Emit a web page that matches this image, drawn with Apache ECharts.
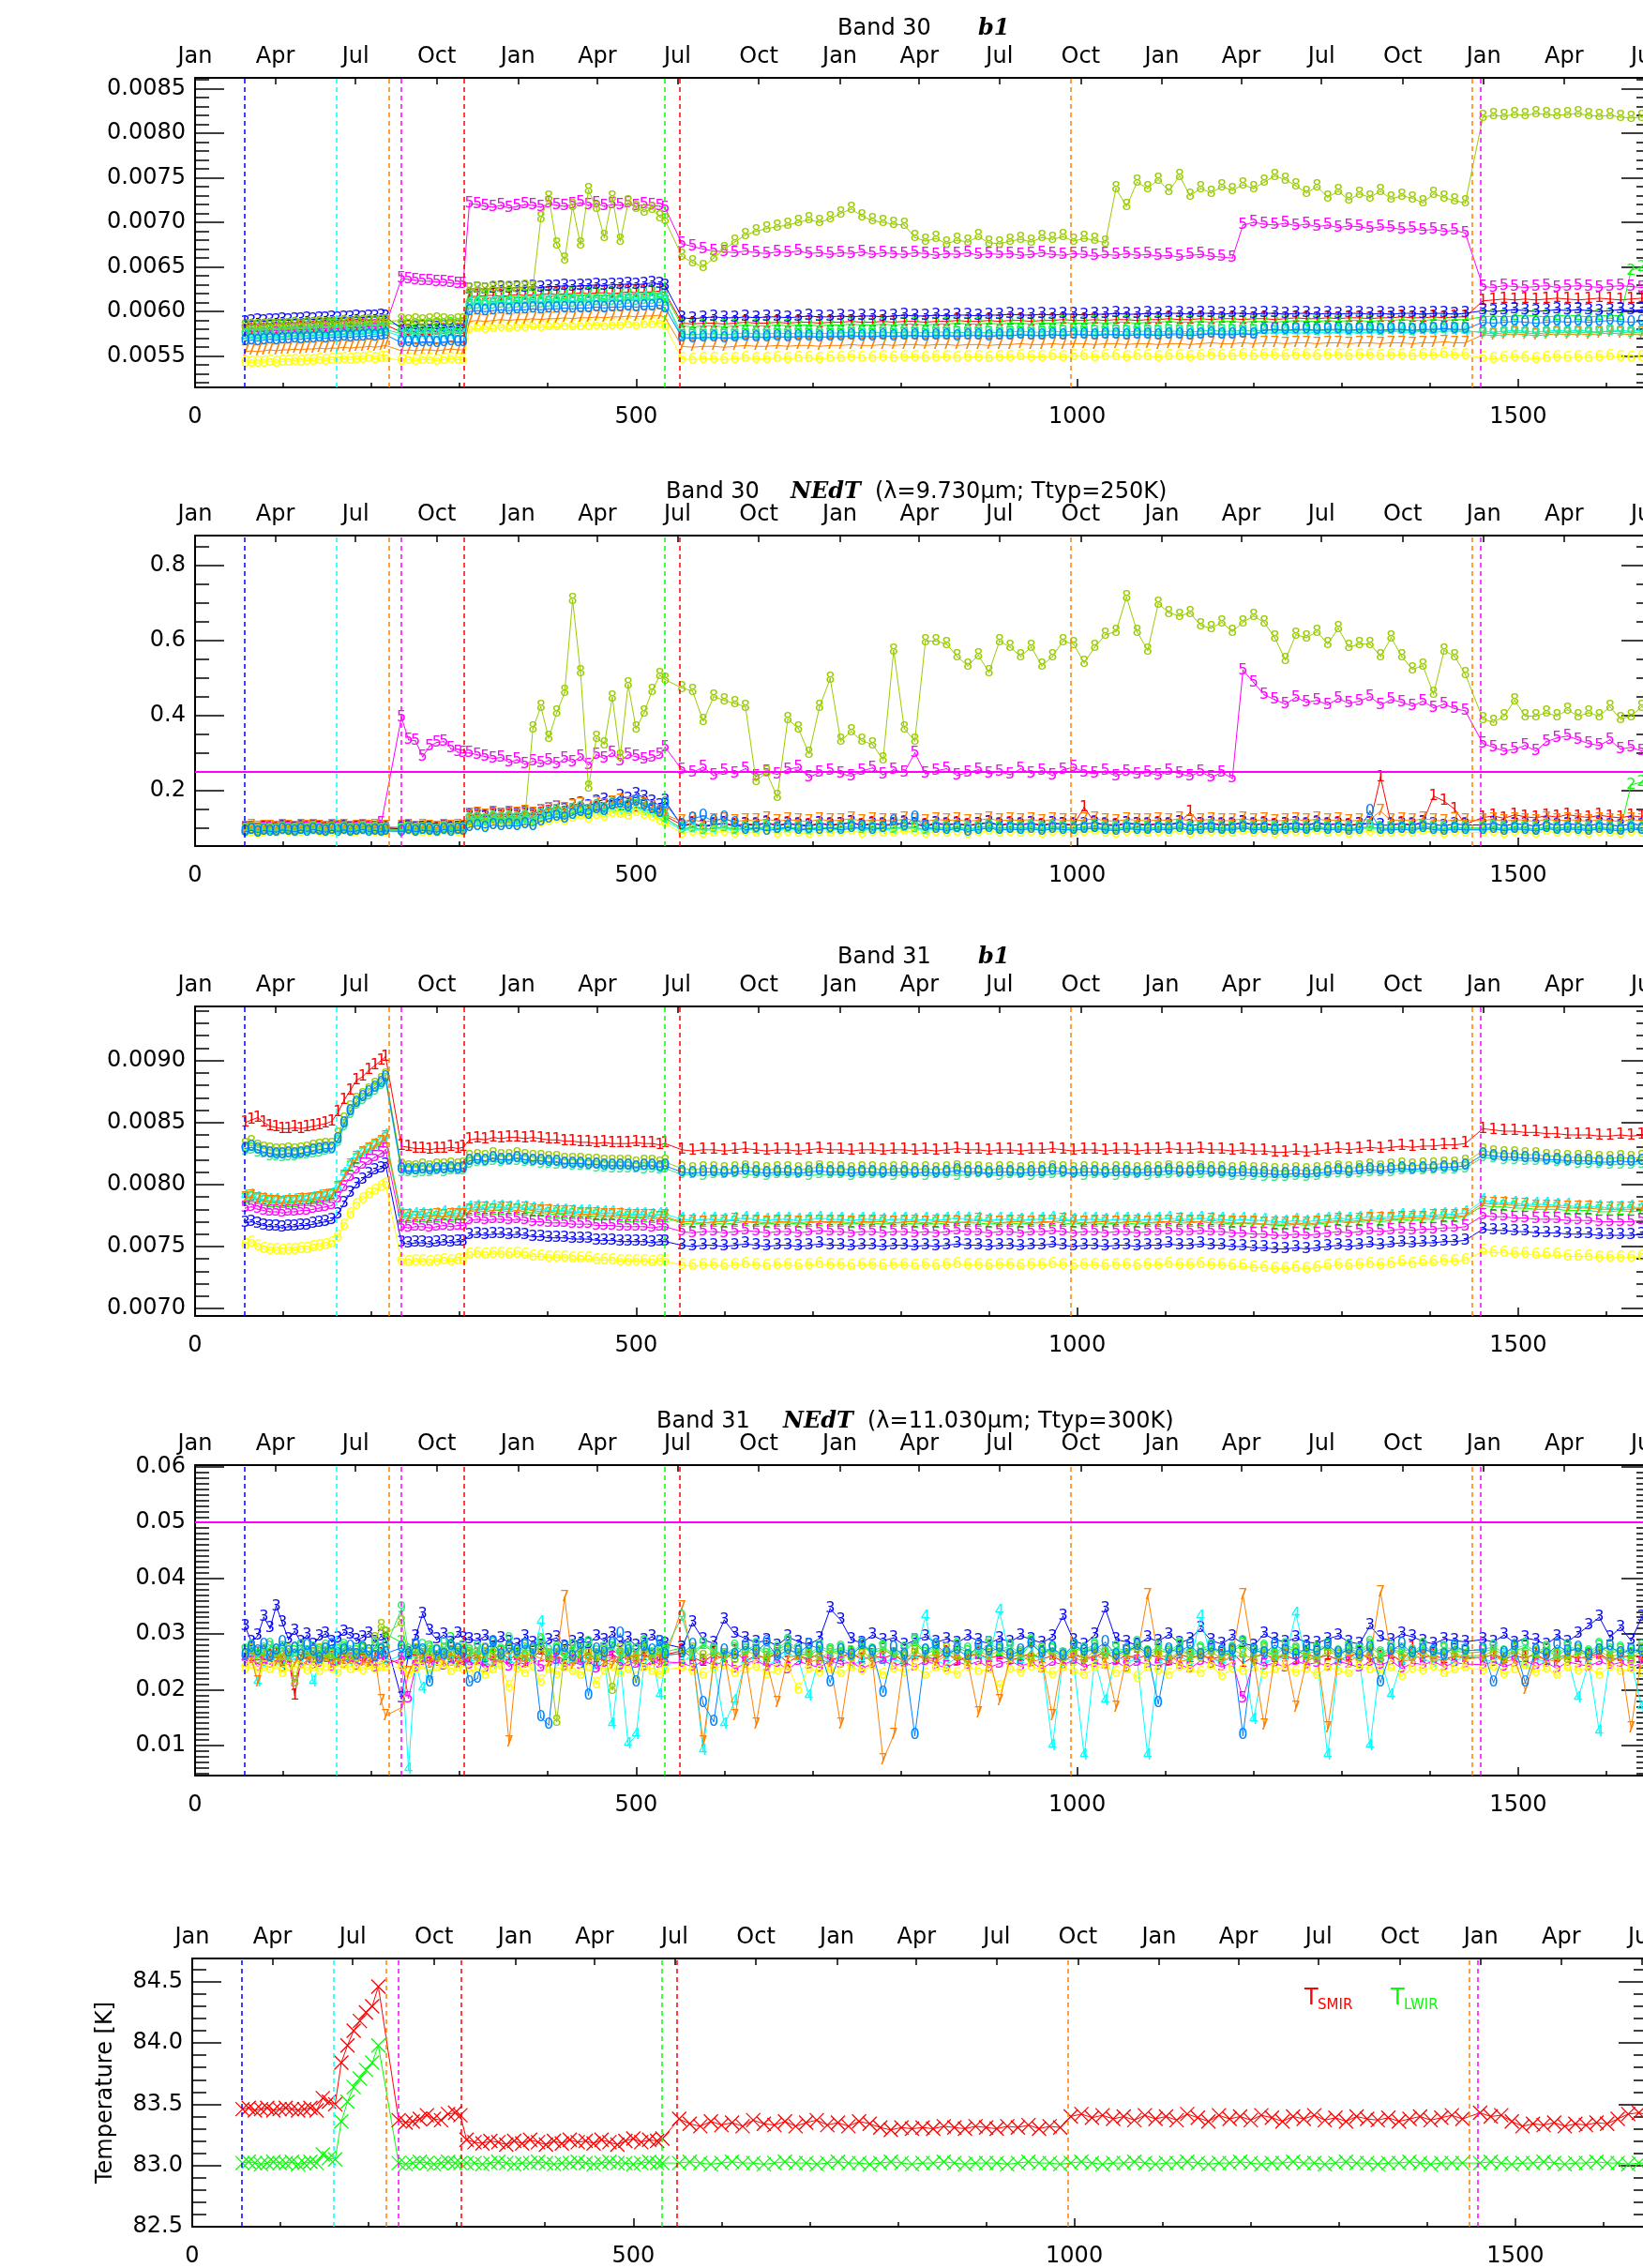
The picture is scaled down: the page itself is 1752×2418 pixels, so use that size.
<!DOCTYPE html>
<html>
<head>
<meta charset="utf-8">
<script src="https://cdn.jsdelivr.net/npm/echarts@6/dist/echarts.min.js"></script>
<style>
html,body{margin:0;padding:0;width:1752px;height:2418px;overflow:hidden;background:#fff}
#wrap{width:1752px;height:2418px;overflow:hidden;position:relative}
#chart{width:1800px;height:2418px}
</style>
</head>
<body>
<div id="wrap"><div id="chart"></div></div>
<script>
// Sample days (days since 1 Jan 2000) shared by every trend below.
const DAYS = [
  57,64,71,78,85,92,99,106,113,120,127,134,141,148,155,162,169,176,183,190,197,204,211,216,
  234,242,250,258,266,274,282,290,298,304,
  311,320,329,338,347,356,365,374,383,392,401,410,419,428,437,446,455,464,473,482,491,500,509,518,527,533,
  552,564,576,588,600,612,624,636,648,660,672,684,696,708,720,
  732,744,756,768,780,792,804,816,828,840,852,864,876,888,900,
  912,924,936,948,960,972,984,996,1008,1020,1032,1044,1056,1068,1080,
  1092,1104,1116,1128,1140,1152,1164,1176,1188,1200,1212,1224,1236,1248,1260,
  1272,1284,1296,1308,1320,1332,1344,1356,1368,1380,1392,1404,1416,1428,1440,
  1460,1472,1484,1496,1508,1520,1532,1544,1556,1568,1580,1592,1604,1616,1628,1640,1652
];

// Top-axis calendar ticks
const MONTH_DAYS = [0,91,182,274,366,456,547,639,731,821,912,1004,1096,1186,1277,1369,1461,1552,1643];
const MONTH_NAMES = ['Jan','Apr','Jul','Oct','Jan','Apr','Jul','Oct','Jan','Apr','Jul','Oct','Jan','Apr','Jul','Oct','Jan','Apr','Jul'];
const DAY_TICKS = [0,500,1000,1500];

// Instrument events (vertical markers)
const EVENT_DAYS = [56.5,160,219.5,233.6,305,532.7,549,992.8,1447.3,1457];

// Y tick labels
const Y_TICKS_B30_B1 = [0.0055,0.006,0.0065,0.007,0.0075,0.008,0.0085];
const Y_TICKS_B30_NEDT = [0.2,0.4,0.6,0.8];
const Y_TICKS_B31_B1 = [0.007,0.0075,0.008,0.0085,0.009];
const Y_TICKS_B31_NEDT = [0.01,0.02,0.03,0.04,0.05,0.06];
const Y_TICKS_TEMP = [82.5,83,83.5,84,84.5];

// NEdT specifications
const SPEC_B30 = 0.25;
const SPEC_B31 = 0.05;

const DETECTORS = ['1','2','3','4','5','6','7','8','9','0'];

// Band 30 b1, in units of 1e-5 (detectors 1..10)
const B30_B1 = [
 [578,579,578,579,579,580,579,580,580,581,580,581,581,582,581,582,582,583,583,583,584,584,584,585,
  577,578,577,578,578,578,579,578,579,579,
  617,617,618,618,617,618,619,618,619,619,620,619,620,620,621,620,621,621,620,621,622,621,622,622,623,621,
  587,586,587,587,586,587,588,587,587,588,587,588,588,587,588,
  588,589,588,588,589,588,589,589,588,589,589,590,589,589,590,
  589,590,590,589,590,590,591,590,590,591,590,591,591,590,591,
  591,592,591,591,592,591,592,592,591,592,592,591,592,593,592,
  592,593,592,593,593,592,593,593,594,593,593,594,593,594,594,
  612,613,614,613,614,613,614,615,614,613,614,615,614,613,614,615,614],
 [581,582,581,582,582,583,582,583,583,584,583,584,584,585,584,585,585,586,586,586,587,587,587,588,
  584,584,585,584,585,585,585,586,585,586,
  615,616,616,615,616,617,616,617,617,618,617,618,618,619,618,619,619,618,619,620,619,620,620,621,620,618,
  584,583,584,584,583,584,585,584,584,585,584,585,585,584,585,
  585,586,585,585,586,585,586,586,585,586,586,587,586,586,587,
  586,587,587,586,587,587,588,587,587,588,587,588,588,587,588,
  588,589,588,588,589,588,589,589,588,589,589,588,589,590,589,
  589,590,589,590,590,589,590,590,591,590,590,591,590,591,591,
  594,595,594,595,596,595,594,595,596,595,594,595,596,595,646,650,649],
 [588,589,590,589,590,590,591,590,591,591,592,591,592,592,593,592,593,593,594,593,594,594,595,594,
  581,582,581,582,582,581,582,583,582,582,
  625,626,625,626,627,626,627,627,628,627,628,628,629,628,629,629,630,629,630,630,631,630,631,632,631,629,
  593,592,593,594,593,593,594,593,594,594,593,594,595,594,594,
  595,594,595,595,594,595,596,595,595,596,595,596,596,595,596,
  596,597,596,596,597,596,597,597,596,597,597,598,597,597,598,
  597,598,598,597,598,598,597,598,598,597,598,598,597,598,598,
  597,598,597,598,598,597,598,597,598,598,597,598,598,597,598,
  601,600,601,602,601,600,601,602,601,602,601,600,601,602,601,602,601],
 [571,572,571,572,572,573,572,573,573,574,573,574,574,575,574,575,575,576,576,576,577,577,577,578,
  572,573,572,573,573,572,573,574,573,573,
  609,610,609,610,611,610,611,611,612,611,612,612,613,612,613,613,612,613,614,613,614,614,615,614,615,613,
  570,571,570,571,571,570,571,572,571,571,572,571,572,572,571,
  572,572,573,572,572,573,572,573,573,572,573,573,574,573,573,
  574,573,574,574,573,574,574,575,574,574,575,574,575,575,574,
  575,575,576,575,575,576,575,576,576,575,576,576,577,576,576,
  577,576,577,577,576,577,577,578,577,577,578,577,578,578,577,
  578,577,578,579,578,577,578,579,578,579,578,577,578,579,578,579,578],
 [577,578,577,578,578,579,578,579,579,580,579,580,580,581,580,581,581,582,582,582,583,583,583,584,
  637,636,635,634,634,633,633,632,631,631,
  721,720,718,717,719,716,718,720,719,717,721,719,718,720,722,719,721,718,720,719,721,718,720,719,718,716,
  676,673,670,668,667,666,668,666,665,667,666,668,665,666,664,
  666,665,667,664,666,665,664,666,665,663,665,664,666,663,665,
  664,665,663,664,666,664,663,665,664,662,664,663,665,663,664,
  662,663,661,663,664,662,661,660,697,700,698,697,699,696,698,
  695,697,694,696,695,693,695,694,692,693,691,692,690,691,688,
  628,627,629,628,627,628,629,627,628,629,628,627,628,629,628,627,628],
 [542,543,542,543,544,543,544,544,545,544,545,545,546,545,546,546,547,546,547,547,548,547,548,548,
  545,546,545,546,546,545,546,547,546,546,
  580,581,580,581,582,581,582,582,583,582,583,583,584,583,584,584,585,584,585,585,586,585,586,586,587,584,
  547,546,547,547,546,547,548,547,547,548,547,548,548,547,548,
  548,549,548,548,549,548,549,549,548,549,549,548,549,549,548,
  549,549,550,549,549,550,549,550,550,549,550,550,549,550,550,
  549,550,550,549,550,551,550,550,551,550,551,551,550,551,551,
  550,551,551,550,551,551,550,551,551,550,551,551,552,551,551,
  548,547,548,549,548,547,548,549,548,549,548,549,550,549,548,549,548],
 [555,556,555,556,557,556,557,557,558,557,558,558,559,558,559,559,560,559,560,560,561,560,561,562,
  556,557,556,557,557,556,557,558,557,557,
  589,590,589,590,591,590,591,591,592,591,592,592,593,592,593,593,594,593,594,594,595,594,595,595,596,593,
  561,560,561,561,560,561,562,561,561,562,561,562,562,561,562,
  562,563,562,562,563,562,563,563,562,563,563,562,563,563,562,
  563,563,564,563,563,564,563,564,564,563,564,564,563,564,564,
  563,564,564,563,564,565,564,564,565,564,565,565,564,565,565,
  564,565,565,564,565,565,564,565,565,564,565,565,566,565,565,
  574,573,574,575,574,573,574,575,574,575,574,575,576,575,574,575,574],
 [583,584,583,584,585,584,585,585,586,585,586,586,587,586,587,587,588,587,588,588,589,588,589,589,
  590,589,590,589,590,591,590,589,590,590,
  625,626,625,627,626,627,626,628,627,704,728,675,658,718,675,736,716,683,728,679,722,716,712,715,706,702,
  662,655,650,660,670,678,686,690,693,695,697,700,703,700,704,
  710,715,707,702,700,698,697,683,679,682,676,680,678,684,677,
  676,679,681,678,683,681,684,679,682,680,677,738,718,745,738,
  748,735,752,730,738,733,740,736,742,738,745,752,748,741,733,
  740,728,735,725,732,728,735,726,730,727,722,732,728,724,722,
  818,820,819,821,820,822,821,820,821,822,820,819,820,818,817,818,816],
 [573,574,573,574,575,574,575,575,576,575,576,576,577,576,577,577,578,577,578,578,579,578,579,580,
  575,576,575,576,576,575,576,577,576,576,
  607,608,607,608,609,608,609,609,610,609,610,610,611,610,611,611,612,611,612,612,613,612,613,613,614,611,
  575,574,575,575,574,575,576,575,575,576,575,576,576,575,576,
  576,577,576,576,577,576,577,577,576,577,577,576,577,577,576,
  577,577,578,577,577,578,577,578,578,577,578,578,577,578,578,
  577,578,578,577,578,579,578,578,579,578,579,579,578,579,579,
  578,579,579,578,579,579,578,579,579,578,579,579,580,579,579,
  576,575,576,577,576,575,576,577,576,577,576,577,578,577,576,577,576],
 [567,568,567,568,569,568,569,569,570,569,570,570,571,570,571,571,572,571,572,572,573,572,573,574,
  565,566,565,566,566,565,566,567,566,566,
  600,601,600,601,602,601,602,602,603,602,603,603,604,603,604,604,605,604,605,605,606,605,606,606,607,604,
  571,570,571,571,570,571,572,571,571,572,571,572,572,571,572,
  572,573,572,572,573,572,573,573,572,573,573,572,573,573,572,
  573,573,574,573,573,574,573,574,574,573,574,574,573,574,574,
  573,574,574,573,574,575,574,574,575,574,579,580,579,580,580,
  579,580,580,579,580,580,579,580,580,579,580,580,581,580,580,
  588,587,588,589,588,587,588,589,588,589,588,589,590,589,588,589,588]
];

// Band 30 NEdT, in units of 1e-3 K (detectors 1..10)
const B30_NEDT = [
 [98,100,96,101,99,97,102,100,98,101,99,103,100,97,101,99,102,98,100,103,99,101,98,100,
  99,102,98,101,100,97,103,99,101,100,
  128,131,127,133,129,132,130,135,131,138,142,145,140,148,151,146,153,149,155,158,152,156,150,147,139,132,
  108,112,106,110,113,107,111,109,114,108,112,110,107,113,109,
  111,115,108,112,110,109,114,111,107,113,110,112,108,111,115,
  109,112,110,113,108,113,111,109,155,114,110,108,113,111,109,
  112,110,115,142,111,113,109,110,115,110,112,108,111,113,109,
  114,110,112,108,111,113,235,110,112,109,115,185,172,150,110,
  128,132,126,135,130,127,133,129,136,131,128,134,130,127,133,129,132],
 [95,98,93,97,96,94,99,97,95,98,96,100,97,94,98,96,99,95,97,100,96,98,95,97,
  96,99,95,98,97,94,100,96,98,97,
  118,121,117,123,119,122,120,125,121,128,134,138,133,142,146,140,150,145,155,152,148,158,150,144,136,126,
  98,102,96,100,103,97,101,99,104,98,102,100,97,103,99,
  101,105,98,102,100,99,104,101,97,103,100,102,98,101,105,
  99,102,100,103,98,103,101,99,102,104,100,98,103,101,99,
  102,100,105,98,101,103,99,100,105,100,102,98,101,103,99,
  104,100,102,98,101,103,99,100,102,99,105,101,98,102,100,
  100,103,98,102,101,97,104,99,102,101,98,103,100,97,215,222,218],
 [97,101,95,100,98,96,103,99,97,102,98,104,99,96,102,98,103,97,99,104,98,101,97,100,
  98,103,97,101,99,96,104,98,101,99,
  132,136,130,138,134,137,135,140,136,145,150,154,148,160,165,158,170,176,168,185,178,190,182,170,160,172,
  105,110,103,108,112,104,109,107,113,106,111,108,104,112,107,
  110,114,106,111,108,107,113,110,104,112,108,111,106,110,114,
  107,111,108,112,106,112,110,107,111,113,108,106,112,110,107,
  111,108,114,106,110,112,107,108,114,108,111,106,110,112,107,
  113,108,111,106,110,112,107,108,111,107,114,109,106,111,108,
  108,112,106,111,109,105,113,107,111,109,106,112,108,105,112,107,110],
 [92,96,90,95,93,91,97,94,92,96,93,98,94,91,96,93,97,92,94,98,93,95,92,95,
  93,97,92,96,94,91,98,93,96,94,
  112,115,111,117,113,116,114,119,115,122,128,132,127,136,140,134,144,139,149,146,142,152,144,138,130,120,
  94,98,92,96,99,93,97,95,100,94,98,96,93,99,95,
  97,101,94,98,96,95,100,97,93,99,96,98,94,97,101,
  95,98,96,99,94,99,97,95,98,100,96,94,99,97,95,
  98,96,101,94,97,99,95,96,101,96,98,94,97,99,95,
  100,96,98,94,97,99,95,96,98,95,101,97,94,98,96,
  96,99,94,98,97,93,100,95,98,97,94,99,96,93,99,95,98],
 [96,99,94,98,97,95,100,98,96,99,97,101,98,95,99,97,100,96,98,101,97,99,112,null,
  395,335,332,290,318,328,330,312,302,300,
  300,295,290,285,288,275,282,270,278,272,280,270,285,275,290,268,295,285,300,278,295,290,282,288,295,315,
  255,248,262,240,252,245,258,238,250,243,256,262,235,248,252,
  245,238,252,260,242,255,248,300,245,252,258,240,248,255,245,
  250,242,258,246,253,240,255,262,248,245,252,238,250,243,248,
  240,252,245,238,250,235,248,232,520,488,455,442,430,448,435,
  440,428,445,432,438,450,428,442,435,425,438,420,430,418,412,
  325,315,305,310,320,305,330,340,345,335,325,320,335,310,315,305,318],
 [88,91,86,90,89,87,92,90,88,91,89,93,90,87,91,89,92,88,90,93,89,91,88,90,
  89,92,88,91,90,87,93,89,91,90,
  105,108,104,110,106,109,107,112,108,115,120,124,119,128,132,126,135,130,140,137,133,143,135,129,121,112,
  86,90,84,88,91,85,89,87,92,86,90,88,85,91,87,
  89,93,86,90,88,87,92,89,85,91,88,90,86,89,93,
  87,90,88,91,86,91,89,87,90,92,88,86,91,89,87,
  90,88,93,86,89,91,87,88,93,88,90,86,89,91,87,
  92,88,90,86,89,91,87,88,90,87,93,89,86,90,88,
  88,91,86,90,89,85,92,87,90,89,86,91,88,85,91,87,90],
 [101,104,99,103,102,100,105,103,101,104,102,106,103,100,104,102,105,101,103,106,102,104,101,103,
  102,105,101,104,103,100,106,102,104,103,
  135,138,133,140,136,139,137,142,138,146,150,155,149,158,162,156,166,160,168,172,164,170,162,155,145,135,
  118,122,116,120,123,117,121,119,124,118,122,120,117,123,119,
  121,125,118,122,120,119,124,121,117,123,120,122,118,121,125,
  119,122,120,123,118,123,121,119,122,124,120,118,123,121,119,
  122,120,125,118,121,123,119,120,125,120,122,118,121,123,119,
  124,120,122,118,121,123,145,120,122,119,125,121,118,122,120,
  120,123,118,122,121,117,124,119,122,121,118,123,120,117,123,119,122],
 [94,97,92,96,95,93,98,96,94,97,95,99,96,93,97,95,98,94,96,99,95,97,94,96,
  95,98,94,97,96,93,99,95,97,96,
  120,124,119,126,122,125,123,128,365,423,340,407,461,707,515,207,340,323,448,290,482,365,407,465,507,495,
  473,465,385,450,440,432,423,225,248,182,390,365,298,423,498,
  332,357,332,323,282,573,365,332,598,598,590,557,532,560,515,
  598,582,557,582,532,557,598,590,540,582,615,623,715,623,573,
  698,673,665,673,640,632,648,623,648,665,648,607,548,615,607,
  623,590,632,582,590,590,557,607,557,523,532,457,573,557,510,
  390,382,398,440,398,398,407,398,415,398,407,398,423,390,398,423,410],
 [93,96,91,95,94,92,97,95,93,96,94,98,95,92,96,94,97,93,95,98,94,96,93,95,
  94,97,93,96,95,92,98,94,96,95,
  122,126,121,128,124,127,125,130,126,134,140,144,138,148,153,146,158,150,162,166,158,170,160,150,140,128,
  97,101,95,99,102,96,100,98,103,97,101,99,96,102,98,
  100,104,97,101,99,98,103,100,96,102,99,101,97,100,104,
  98,101,99,102,97,102,100,98,101,103,99,97,102,100,98,
  101,99,104,97,100,102,98,99,104,99,101,97,100,102,98,
  103,99,101,97,100,102,98,99,101,98,104,100,97,101,99,
  99,102,97,101,100,96,103,98,101,100,97,102,99,96,102,98,101],
 [90,94,88,93,91,89,95,92,90,94,91,96,92,89,94,91,95,90,92,96,91,93,90,92,
  91,95,90,94,92,89,96,91,94,92,
  102,106,100,108,104,107,105,110,106,118,125,130,124,135,142,136,150,145,160,165,155,170,160,150,140,165,
  108,125,132,118,128,112,95,100,93,97,102,94,98,96,101,
  95,99,103,96,100,118,105,128,102,97,94,99,91,96,100,
  94,97,95,98,93,98,96,94,97,99,95,93,98,96,94,
  97,95,100,93,96,98,94,95,100,95,97,93,96,98,94,
  99,95,97,93,96,145,94,95,97,94,100,96,93,97,95,
  95,98,93,97,96,92,99,94,97,96,93,98,95,92,98,94,97]
];

// Band 31 b1, in units of 1e-5 (detectors 1..10)
const B31_B1 = [
 [850,852,854,850,847,846,845,845,846,845,846,847,848,849,851,858,868,876,884,887,892,896,900,903,
  831,830,829,829,828,829,829,830,829,830,
  836,837,836,838,837,838,838,837,838,837,836,836,835,835,834,834,833,834,833,833,833,834,833,833,832,833,
  828,827,828,828,827,828,829,828,827,828,828,827,828,829,828,
  828,827,828,828,827,828,828,827,828,827,828,829,828,828,827,
  828,828,827,828,828,829,828,827,828,828,827,828,828,827,828,
  828,829,828,828,829,828,828,827,828,827,827,826,826,827,826,
  827,828,829,828,829,830,829,830,831,830,831,831,832,832,833,
  845,844,843,843,842,842,841,841,840,840,840,839,839,840,839,840,840],
 [788,789,787,786,785,785,784,785,785,786,786,787,788,789,790,796,805,814,820,824,827,830,833,836,
  773,772,773,773,772,773,774,773,774,774,
  778,779,778,779,779,778,779,778,777,777,776,776,776,775,775,775,774,774,774,773,773,773,773,772,773,773,
  769,768,769,769,768,769,770,769,768,769,769,768,769,770,769,
  769,768,769,769,768,769,769,768,769,768,769,770,769,769,768,
  769,769,768,769,769,770,769,768,769,769,768,769,769,768,769,
  769,770,769,769,770,769,769,768,769,768,768,767,767,768,767,
  768,769,770,769,770,771,770,771,772,771,772,772,773,773,774,
  783,782,782,781,781,780,780,780,779,779,779,778,778,779,778,779,778],
 [769,770,768,767,766,766,765,766,766,767,767,768,769,770,771,776,785,793,800,804,808,811,813,816,
  753,752,753,753,752,753,754,753,754,754,
  759,760,759,760,760,759,760,759,758,758,757,757,757,756,756,756,755,755,755,754,754,754,754,753,754,754,
  751,750,751,751,750,751,752,751,750,751,751,750,751,752,751,
  751,750,751,751,750,751,751,750,751,750,751,752,751,751,750,
  751,751,750,751,751,752,751,750,751,751,750,751,751,750,751,
  751,752,751,751,752,751,751,750,750,749,749,748,748,749,748,
  749,750,751,750,751,752,751,752,753,752,753,753,754,754,755,
  764,763,763,762,762,761,761,761,760,760,760,759,759,759,759,760,759],
 [790,791,789,788,787,787,786,787,787,788,788,789,790,791,792,798,808,816,822,826,829,832,835,839,
  776,775,776,776,775,776,777,776,777,777,
  781,782,781,782,782,781,782,781,780,780,779,779,779,778,778,778,777,777,777,776,776,776,776,775,776,776,
  772,771,772,772,771,772,773,772,771,772,772,771,772,773,772,
  772,771,772,772,771,772,772,771,772,771,772,773,772,772,771,
  772,772,771,772,772,773,772,771,772,772,771,772,772,771,772,
  772,773,772,772,773,772,772,771,772,771,771,770,770,771,770,
  771,772,773,772,773,774,773,774,775,774,775,775,776,776,777,
  787,786,785,785,784,784,784,783,783,782,782,782,781,781,782,781,782],
 [781,782,780,779,778,778,777,778,778,779,779,780,781,782,783,789,798,806,812,816,819,822,825,828,
  766,765,766,766,765,766,767,766,767,767,
  771,772,771,772,772,771,772,771,770,770,769,769,769,768,768,768,767,767,767,766,766,766,766,765,766,766,
  762,761,762,762,761,762,763,762,761,762,762,761,762,763,762,
  762,761,762,762,761,762,762,761,762,761,762,763,762,762,761,
  762,762,761,762,762,763,762,761,762,762,761,762,762,761,762,
  762,763,762,762,763,762,762,761,761,760,760,759,759,760,759,
  760,761,762,761,762,763,762,763,764,763,764,764,765,765,766,
  775,774,774,773,773,772,772,772,771,771,771,770,770,770,770,771,770],
 [751,753,750,748,747,747,746,747,747,748,748,749,750,751,752,758,767,776,783,788,792,795,798,800,
  738,737,738,738,737,738,739,738,739,739,
  743,744,743,744,744,743,744,743,742,742,741,741,741,740,740,740,739,739,739,738,738,738,738,737,738,738,
  735,734,735,735,734,735,736,735,734,735,735,734,735,736,735,
  735,734,735,735,734,735,735,734,735,734,735,736,735,735,734,
  735,735,734,735,735,736,735,734,735,735,734,735,735,734,735,
  735,736,735,735,736,735,735,734,734,733,733,732,732,733,732,
  733,734,735,734,735,736,735,736,737,736,737,737,738,738,739,
  746,745,745,744,744,743,743,743,742,742,742,741,741,741,741,742,741],
 [789,790,788,787,786,786,785,786,786,787,787,788,789,790,791,797,806,815,821,825,828,831,834,838,
  774,774,773,774,774,775,774,775,775,775,
  779,780,780,779,780,780,779,780,779,778,778,777,777,777,776,776,776,775,775,775,774,774,774,774,773,774,
  770,770,769,770,770,771,770,770,769,770,770,769,770,770,770,
  770,769,770,770,770,769,770,770,769,770,770,769,770,771,770,
  769,770,770,769,770,770,771,770,769,770,770,769,770,770,769,
  770,770,771,770,770,771,770,769,769,769,768,768,768,769,768,
  769,770,771,770,771,772,772,772,773,773,773,774,774,774,775,
  785,784,784,783,783,782,782,782,781,781,781,780,780,780,780,781,780],
 [832,834,830,829,828,827,827,828,827,828,829,830,831,832,832,840,852,862,868,872,876,880,884,888,
  815,814,814,815,814,815,815,816,815,816,
  822,823,822,824,823,823,824,823,822,822,821,821,820,820,820,819,819,818,818,818,818,817,818,818,817,818,
  813,812,813,813,812,813,814,813,812,813,813,812,813,814,813,
  813,812,813,813,812,813,813,812,813,812,813,814,813,813,812,
  813,813,812,813,813,814,813,812,813,813,812,813,813,812,813,
  813,814,813,813,814,813,813,812,813,812,812,811,811,812,811,
  812,813,814,813,814,815,814,815,816,815,816,816,817,817,818,
  827,826,825,825,824,824,823,823,822,822,822,821,821,822,821,822,822],
 [827,828,826,825,823,823,822,823,823,824,824,825,826,827,828,834,847,857,864,868,872,876,880,884,
  810,810,809,810,810,811,810,811,811,811,
  817,818,818,819,818,819,819,818,818,817,817,816,816,815,815,815,814,814,813,813,813,813,812,813,812,813,
  808,808,807,808,808,809,808,808,807,808,808,808,807,808,808,
  808,807,808,808,808,807,808,808,807,808,808,807,808,809,808,
  807,808,808,807,808,808,809,808,807,808,808,807,808,808,807,
  808,808,809,808,808,809,808,807,807,807,806,806,806,807,806,
  807,808,809,808,809,810,810,810,811,811,811,812,812,812,813,
  822,821,820,820,819,819,819,818,818,817,817,817,816,816,816,817,817],
 [829,830,828,826,825,824,824,825,824,825,826,827,828,829,829,836,849,859,866,870,874,878,882,886,
  812,811,811,812,811,812,812,813,812,813,
  819,820,819,821,820,820,821,820,819,819,818,818,817,817,817,816,816,815,815,815,815,814,815,815,814,815,
  810,809,810,810,809,810,811,810,809,810,810,809,810,811,810,
  810,809,810,810,809,810,810,809,810,809,810,811,810,810,809,
  810,810,809,810,810,811,810,809,810,810,809,810,810,809,810,
  810,811,810,810,811,810,810,809,810,809,809,808,808,809,808,
  809,810,811,810,811,812,811,812,813,812,813,813,814,814,815,
  824,823,822,822,821,821,820,820,819,819,819,818,818,819,818,819,819]
];

// Band 31 NEdT, in units of 1e-4 K (detectors 1..10)
const B31_NEDT = [
 [262,258,265,255,260,263,248,257,190,252,261,256,259,264,257,253,260,255,262,258,251,259,263,257,
  245,262,268,255,258,250,264,257,261,255,
  258,264,252,260,267,255,262,249,258,270,256,261,253,263,257,268,250,259,264,255,261,258,266,252,260,263,
  270,258,250,263,255,268,252,261,257,264,249,260,256,265,253,
  259,266,254,261,257,263,250,262,258,255,267,251,260,264,256,
  262,253,258,266,255,261,250,263,257,259,268,254,261,256,263,
  258,251,264,257,262,255,260,266,248,259,263,256,261,254,265,
  257,262,253,260,266,255,259,263,251,275,258,262,255,260,257,
  258,263,255,261,257,264,252,259,262,256,260,265,253,258,262,257,260],
 [266,272,260,268,275,263,270,258,267,273,262,269,265,271,260,268,274,262,266,270,263,275,268,300,
  285,262,270,258,275,268,262,290,271,266,
  263,270,258,275,266,285,260,272,268,288,262,270,257,275,265,280,261,269,274,258,272,266,283,260,270,268,
  275,262,280,268,258,272,265,277,262,270,283,267,260,274,266,
  271,263,278,266,273,260,269,285,264,272,258,276,267,262,279,
  268,274,261,283,266,270,259,275,268,277,262,271,266,280,263,
  272,265,278,260,270,275,263,269,281,265,273,260,277,268,264,
  270,276,262,274,267,279,261,272,268,265,276,263,271,270,266,
  268,273,262,270,276,265,271,260,274,268,263,277,266,270,264,272,268],
 [313,285,297,330,310,350,320,290,305,285,298,280,295,300,286,292,303,298,288,294,301,285,296,290,
  185,265,295,336,305,290,298,284,300,292,
  290,288,296,283,292,286,280,295,284,278,289,293,276,285,290,282,296,288,300,284,292,279,288,295,285,282,
  275,320,290,283,325,300,292,285,288,279,295,286,281,292,345,
  325,290,284,298,288,293,280,289,295,285,291,284,296,288,283,
  292,286,297,290,284,295,332,288,281,298,345,290,286,280,293,
  287,299,284,291,310,288,282,295,283,279,300,290,286,293,285,
  284,291,297,286,282,315,293,288,300,295,287,282,291,288,286,
  290,286,298,284,293,289,281,296,286,300,315,330,294,312,288,330,296],
 [255,262,213,248,258,252,244,260,255,250,263,213,250,257,246,258,253,249,255,260,252,245,258,250,
  262,57,248,201,224,256,262,250,244,258,
  250,255,248,243,260,252,245,258,254,320,262,250,244,255,248,252,240,258,137,250,102,118,245,262,190,245,
  250,262,90,250,137,180,250,258,244,252,265,255,188,262,250,
  258,244,252,262,250,255,248,260,330,252,245,258,250,262,255,
  340,258,250,262,255,98,258,250,81,255,180,262,250,255,81,
  250,258,262,248,330,255,250,258,262,146,250,255,258,336,252,
  258,81,250,262,255,98,255,190,250,262,255,248,258,250,262,
  255,250,262,258,245,255,250,262,258,185,248,124,255,258,250,168,255],
 [248,255,242,250,246,253,240,251,213,245,252,244,249,256,241,250,247,254,243,251,248,240,252,246,
  255,185,240,252,247,255,243,250,246,252,
  244,251,238,249,255,242,250,246,253,239,248,254,241,250,245,252,238,249,256,243,250,247,241,252,246,250,
  248,241,252,244,250,238,247,253,242,249,236,251,245,240,252,
  246,250,238,247,253,243,249,241,252,245,239,250,244,251,240,
  247,252,242,249,238,250,245,253,241,248,244,251,239,250,246,
  243,250,245,238,252,247,241,249,185,250,243,248,240,252,245,
  249,242,251,246,240,250,244,252,238,248,245,251,241,249,246,
  245,250,241,248,252,243,249,238,250,246,242,251,244,249,240,248,246],
 [238,245,232,240,236,243,230,241,237,244,235,240,233,242,238,231,244,236,240,234,243,237,239,241,
  240,228,236,243,231,239,245,233,240,236,
  232,239,227,236,243,205,238,230,241,215,236,228,240,233,226,239,210,235,242,229,237,220,240,233,228,236,
  240,233,226,238,243,230,237,241,228,235,242,200,238,231,236,
  229,240,234,243,227,238,232,241,226,239,235,228,242,233,237,
  204,238,231,242,236,228,240,233,226,239,243,230,237,222,240,
  234,227,241,236,230,243,225,238,233,240,228,236,242,231,238,
  226,240,235,229,243,237,232,240,225,238,234,241,229,236,240,
  235,241,228,237,243,231,238,226,240,234,239,227,242,233,238,230,236],
 [262,255,213,265,258,250,262,256,248,260,254,263,251,258,246,260,253,255,262,250,248,258,180,153,
  168,230,255,262,250,258,252,266,248,255,
  260,252,262,248,258,105,255,250,262,256,250,258,366,245,262,253,258,250,244,262,255,250,258,262,250,255,
  347,262,105,252,262,152,255,137,250,175,258,262,250,255,248,
  137,258,262,250,74,118,258,262,255,250,262,258,250,157,262,
  180,258,262,250,255,152,262,258,250,262,255,168,258,262,369,
  258,262,250,255,262,258,250,262,370,255,135,258,262,168,250,
  262,130,258,250,262,258,375,262,250,255,262,258,250,262,255,
  258,262,250,255,200,258,255,250,262,258,255,262,250,258,130,262,255],
 [262,270,255,268,258,265,252,270,213,260,266,255,270,258,264,252,268,260,256,272,263,290,313,300,
  320,262,270,255,266,258,272,260,265,270,
  268,258,272,262,255,270,263,257,268,275,260,143,266,254,270,262,258,268,200,272,262,255,270,258,265,262,
  265,272,258,268,262,255,270,263,257,268,275,260,266,254,270,
  262,258,268,256,272,263,255,270,258,265,272,260,255,268,262,
  270,258,265,255,272,262,258,268,255,270,263,257,268,275,260,
  266,254,270,262,258,268,256,272,263,255,270,258,265,272,260,
  255,268,262,270,258,265,255,272,262,258,268,256,272,263,260,
  262,268,255,270,258,265,272,260,255,268,262,270,258,265,255,272,262],
 [270,276,265,272,280,268,275,262,271,278,266,274,269,277,264,272,279,267,271,275,268,280,272,276,
  345,270,265,278,272,268,282,275,270,276,
  268,275,262,280,270,290,266,276,272,285,268,274,262,279,270,284,266,273,278,262,275,270,286,264,274,272,
  330,268,282,272,262,276,270,281,266,274,287,271,264,278,270,
  275,267,282,270,277,264,273,288,268,276,262,280,271,266,283,
  272,278,265,287,270,274,263,279,272,281,266,275,270,284,267,
  276,269,282,264,274,279,267,273,285,269,277,264,281,272,268,
  274,280,266,278,271,283,265,276,272,269,280,267,275,274,270,
  272,277,266,274,280,269,275,264,278,272,267,281,270,274,268,276,272],
 [262,275,268,280,258,270,285,266,273,260,278,268,255,272,280,264,270,276,262,274,268,258,270,265,
  275,262,280,270,213,268,262,278,270,265,
  213,220,270,285,262,275,268,280,272,150,137,268,275,258,280,190,272,265,282,300,268,213,276,270,285,262,
  265,280,175,143,270,262,278,268,285,260,272,266,280,274,213,
  270,262,280,268,195,275,262,118,270,280,265,272,260,278,268,
  275,262,270,282,265,275,260,280,268,272,285,262,270,278,265,
  175,272,268,280,262,275,268,270,118,272,265,280,270,262,275,
  268,280,265,272,262,275,213,270,282,265,272,268,262,278,270,
  272,213,265,278,213,270,262,280,268,275,262,270,278,265,272,268,275]
];

// Focal-plane temperatures [K]
const T_SMIR = [
  83.46,83.47,83.45,83.46,83.47,83.45,83.46,83.47,83.46,83.45,83.46,83.47,83.45,83.55,83.52,83.5,83.84,83.98,84.1,84.18,84.25,84.3,84.46,null,
  83.37,83.35,83.36,83.38,83.41,83.38,83.37,83.42,83.43,83.41,
  83.21,83.19,83.18,83.2,83.19,83.17,83.2,83.18,83.21,83.19,83.17,83.2,83.18,83.21,83.19,83.2,83.18,83.21,83.19,83.17,83.2,83.22,83.19,83.21,83.2,83.22,
  83.38,83.34,83.32,83.36,83.33,83.35,83.32,83.37,83.34,83.33,83.36,83.32,83.35,83.37,83.33,
  83.35,83.32,83.36,83.34,83.31,83.29,83.31,83.3,83.31,83.3,83.32,83.31,83.3,83.32,83.31,
  83.3,83.32,83.31,83.33,83.3,83.32,83.31,83.4,83.42,83.39,83.41,83.38,83.4,83.37,83.41,
  83.38,83.4,83.37,83.42,83.39,83.36,83.41,83.38,83.4,83.37,83.41,83.39,83.36,83.4,83.38,
  83.41,83.37,83.39,83.36,83.4,83.38,83.37,83.39,83.36,83.38,83.4,83.37,83.39,83.41,83.38,
  83.43,83.4,83.41,83.36,83.32,83.34,83.33,83.35,83.32,83.34,83.33,83.35,83.34,83.38,83.42,83.43,83.41
];
const T_LWIR = [
  83.02,83.03,83.02,83.01,83.02,83.03,83.02,83.02,83.03,83.01,83.02,83.03,83.02,83.09,83.06,83.05,83.36,83.52,83.64,83.71,83.78,83.84,83.98,null,
  83.02,83.01,83.02,83.03,83.02,83.01,83.02,83.03,83.02,83.02,
  83.02,83.02,83.01,83.02,83.03,83.02,83.01,83.02,83.02,83.03,83.02,83.01,83.02,83.02,83.03,83.02,83.01,83.02,83.03,83.02,83.02,83.01,83.02,83.03,83.02,83.02,
  83.02,83.03,83.02,83.01,83.02,83.03,83.02,83.02,83.01,83.02,83.03,83.02,83.02,83.01,83.02,
  83.03,83.02,83.02,83.01,83.02,83.03,83.02,83.01,83.02,83.02,83.03,83.02,83.01,83.02,83.02,
  83.02,83.01,83.02,83.03,83.02,83.02,83.01,83.02,83.03,83.02,83.01,83.02,83.02,83.03,83.02,
  83.01,83.02,83.02,83.03,83.02,83.01,83.02,83.02,83.03,83.02,83.01,83.02,83.02,83.03,83.02,
  83.02,83.01,83.02,83.03,83.02,83.02,83.01,83.02,83.02,83.03,83.02,83.01,83.02,83.02,83.02,
  83.02,83.03,83.02,83.01,83.02,83.02,83.03,83.02,83.01,83.02,83.02,83.03,83.02,83.02,83.01,83.02,83.02
];

// ---------------------------------------------------------------- styling
const FONT = '"DejaVu Sans", "Liberation Sans", sans-serif';
const SERIF = '"DejaVu Serif", "Liberation Serif", serif';
const DET_COLORS = ['#ff0000','#00ff00','#0000ff','#00ffff','#ff00ff','#ffff00','#ff8000','#99cc00','#33e680','#0080ff'];
const EVENT_COLORS = ['#0000ff','#00ffff','#ff8000','#ff00ff','#ff0000','#00ff00','#ff0000','#ff8000','#ff8000','#ff00ff'];
const X_MAX = 1650;
const PLOT_W = 1552;

const PANELS = [
  {top: 83,   h: 330, left: 208, min: 0.00515, max: 0.00862, ticks: Y_TICKS_B30_B1,   minor: [0.0052, 0.0086, 0.0001], dec: 4, rows: B30_B1,   scale: 1e-5},
  {top: 571,  h: 331, left: 208, min: 0.052,   max: 0.879,   ticks: Y_TICKS_B30_NEDT, minor: [0.1, 0.85, 0.05],       dec: 1, rows: B30_NEDT, scale: 1e-3, spec: SPEC_B30},
  {top: 1073, h: 330, left: 208, min: 0.00694, max: 0.009436, ticks: Y_TICKS_B31_B1,  minor: [0.007, 0.0094, 0.0001], dec: 4, rows: B31_B1,   scale: 1e-5},
  {top: 1562, h: 331, left: 208, min: 0.0046,  max: 0.0603,  ticks: Y_TICKS_B31_NEDT, minor: [0.005, 0.06, 0.001],    dec: 2, rows: B31_NEDT, scale: 1e-4, spec: SPEC_B31},
  {top: 2088, h: 289, left: 205, min: 82.5,    max: 84.69,   ticks: Y_TICKS_TEMP,     minor: [82.5, 84.6, 0.1],       dec: 1, temp: true}
];

function steps(lo, hi, step, skip) {
  const out = [];
  const n = Math.round((hi - lo) / step);
  for (let k = 0; k <= n; k++) {
    const v = +(lo + k * step).toFixed(6);
    if (!skip.some(m => Math.abs(m - v) < step / 10)) out.push(v);
  }
  return out;
}

const LABEL_STYLE = {color: '#000', fontSize: 24, fontFamily: FONT};
const AXIS_LINE = {show: true, onZero: false, lineStyle: {color: '#000', width: 2}};
const TICK_LINE = {color: '#000', width: 1.5};

const grids = [], xAxes = [], yAxes = [], series = [];

PANELS.forEach((p, i) => {
  grids.push({left: p.left, top: p.top, width: PLOT_W, height: p.h, containLabel: false});

  // bottom: day-number axis with labelled ticks, plus minor ticks every 100 days
  xAxes.push({
    gridIndex: i, type: 'value', min: 0, max: X_MAX, position: 'bottom',
    axisLine: AXIS_LINE, splitLine: {show: false},
    axisTick: {show: true, inside: true, length: 9, customValues: DAY_TICKS, lineStyle: TICK_LINE},
    axisLabel: Object.assign({customValues: DAY_TICKS, margin: 20, formatter: v => String(v)}, LABEL_STYLE)
  });
  xAxes.push({
    gridIndex: i, type: 'value', min: 0, max: X_MAX, position: 'bottom',
    axisLine: {show: false, onZero: false}, splitLine: {show: false}, axisLabel: {show: false},
    axisTick: {show: true, inside: true, length: 5, customValues: steps(100, 1600, 100, DAY_TICKS), lineStyle: TICK_LINE}
  });
  // top: calendar months
  xAxes.push({
    gridIndex: i, type: 'value', min: 0, max: X_MAX, position: 'top',
    axisLine: AXIS_LINE, splitLine: {show: false},
    axisTick: {show: true, inside: true, length: 7, customValues: MONTH_DAYS, lineStyle: TICK_LINE},
    axisLabel: Object.assign({
      customValues: MONTH_DAYS, margin: 10,
      formatter: v => MONTH_NAMES[MONTH_DAYS.indexOf(v)] || ''
    }, LABEL_STYLE)
  });

  const minorVals = steps(p.minor[0], p.minor[1], p.minor[2], p.ticks);
  const yBase = {gridIndex: i, type: 'value', min: p.min, max: p.max, splitLine: {show: false}};
  yAxes.push(Object.assign({}, yBase, {
    position: 'left', axisLine: AXIS_LINE,
    axisTick: {show: true, inside: true, length: 31, customValues: p.ticks, lineStyle: TICK_LINE},
    axisLabel: Object.assign({customValues: p.ticks, margin: 10, formatter: v => v.toFixed(p.dec)}, LABEL_STYLE),
    name: p.temp ? 'Temperature [K]' : '', nameLocation: 'middle', nameRotate: 90, nameGap: 80,
    nameTextStyle: {color: '#000', fontSize: 24, fontFamily: FONT}
  }));
  yAxes.push(Object.assign({}, yBase, {
    position: 'left', axisLine: {show: false, onZero: false}, axisLabel: {show: false},
    axisTick: {show: true, inside: true, length: 15, customValues: minorVals, lineStyle: TICK_LINE}
  }));
  yAxes.push(Object.assign({}, yBase, {
    position: 'right', axisLine: AXIS_LINE, axisLabel: {show: false},
    axisTick: {show: true, inside: true, length: 31, customValues: p.ticks, lineStyle: TICK_LINE}
  }));
  yAxes.push(Object.assign({}, yBase, {
    position: 'right', axisLine: {show: false, onZero: false}, axisLabel: {show: false},
    axisTick: {show: true, inside: true, length: 15, customValues: minorVals, lineStyle: TICK_LINE}
  }));

  const xi = i * 3, yi = i * 4;

  // event markers, under the data
  series.push({
    type: 'line', xAxisIndex: xi, yAxisIndex: yi, data: [], silent: true, z: 1, animation: false,
    markLine: {
      silent: true, symbol: 'none', animation: false, label: {show: false},
      data: EVENT_DAYS.map((d, j) => ({xAxis: d, lineStyle: {color: EVENT_COLORS[j], type: [5, 4], width: 1.5}}))
    }
  });

  if (p.rows) {
    p.rows.forEach((row, j) => {
      if (row.length !== DAYS.length) throw new Error('panel ' + i + ' detector ' + DETECTORS[j] + ': ' + row.length + ' values');
      const c = DET_COLORS[j];
      series.push({
        type: 'line', xAxisIndex: xi, yAxisIndex: yi, z: 2 + j * 0.01,
        data: DAYS.map((d, k) => [d, row[k] == null ? '-' : row[k] * p.scale]),
        connectNulls: true, silent: true, animation: false,
        lineStyle: {color: c, width: 1}, itemStyle: {color: c},
        symbol: 'circle', symbolSize: 1.5, showSymbol: true,
        label: {show: true, position: 'inside', formatter: DETECTORS[j], color: c, fontSize: 16, fontFamily: FONT}
      });
    });
  } else {
    [[T_SMIR, '#ff0000'], [T_LWIR, '#00ff00']].forEach(([vals, c]) => {
      if (vals.length !== DAYS.length) throw new Error('temperature: ' + vals.length + ' values');
      series.push({
        type: 'line', xAxisIndex: xi, yAxisIndex: yi, z: 2,
        data: DAYS.map((d, k) => [d, vals[k] == null ? '-' : vals[k]]),
        connectNulls: true, silent: true, animation: false,
        lineStyle: {color: c, width: 1},
        symbol: 'path://M0,0L10,10M10,0L0,10', symbolSize: 15,
        itemStyle: {color: 'rgba(0,0,0,0)', borderColor: c, borderWidth: 1.3}
      });
    });
  }

  if (p.spec != null) {
    series.push({
      type: 'line', xAxisIndex: xi, yAxisIndex: yi, data: [], silent: true, z: 5, animation: false,
      markLine: {
        silent: true, symbol: 'none', animation: false, label: {show: false},
        data: [{yAxis: p.spec, lineStyle: {color: '#ff00ff', type: 'solid', width: 2}}]
      }
    });
  }
});

// panel headings and the temperature key
const plain = (text, left, top, extra) => ({text, left, top, padding: 0,
  textStyle: Object.assign({color: '#000', fontSize: 24, fontWeight: 'normal', fontFamily: FONT}, extra || {})});
const bold = {fontFamily: SERIF, fontStyle: 'italic', fontWeight: 'bold', fontSize: 24};
const titles = [
  plain('Band 30', 893, 19), plain('b1', 1043, 19, bold),
  plain('Band 30', 710, 513), plain('NEdT', 843, 513, bold), plain('(λ=9.730μm; Ttyp=250K)', 933, 513),
  plain('Band 31', 893, 1009), plain('b1', 1043, 1009, bold),
  plain('Band 31', 700, 1504), plain('NEdT', 835, 1504, bold), plain('(λ=11.030μm; Ttyp=300K)', 925, 1504),
  plain('T', 1391, 2119, {color: '#ff0000'}), plain('SMIR', 1405, 2131, {color: '#ff0000', fontSize: 15}),
  plain('T', 1483, 2119, {color: '#00ff00'}), plain('LWIR', 1497, 2131, {color: '#00ff00', fontSize: 15})
];

const chart = echarts.init(document.getElementById('chart'), null, {renderer: 'canvas'});
chart.setOption({
  animation: false,
  backgroundColor: '#ffffff',
  title: titles,
  grid: grids,
  xAxis: xAxes,
  yAxis: yAxes,
  series: series
});
</script>
</body>
</html>
